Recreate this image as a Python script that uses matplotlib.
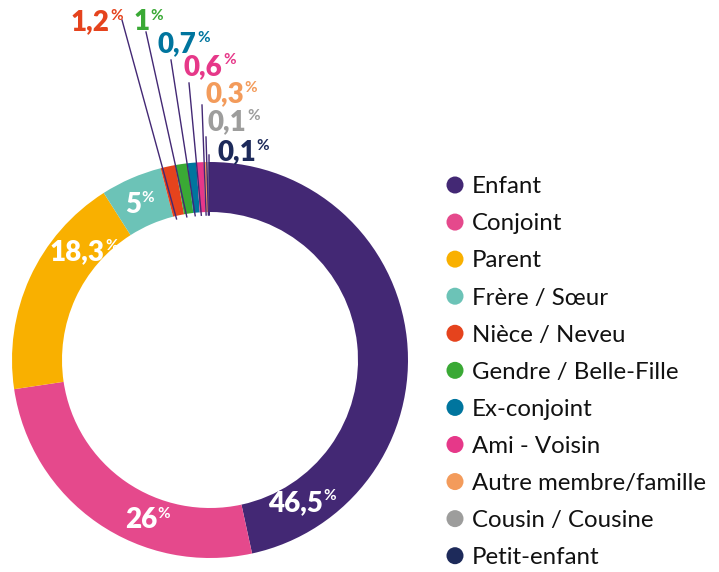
import matplotlib
matplotlib.use('Agg')
import matplotlib.pyplot as plt
import numpy as np

categories = ['Enfant', 'Conjoint', 'Parent', 'Frère / Sœur', 'Nièce / Neveu',
              'Gendre / Belle-Fille', 'Ex-conjoint', 'Ami - Voisin',
              'Autre membre/famille', 'Cousin / Cousine', 'Petit-enfant']
values = [46.5, 26, 18.3, 5, 1.2, 1, 0.7, 0.6, 0.3, 0.1, 0.1]
value_labels = ['46,5', '26', '18,3', '5', '1,2', '1', '0,7', '0,6', '0,3', '0,1', '0,1']
colors = ['#432874', '#e5498c', '#f9b000', '#6cc3b7', '#e5431d', '#3aa935',
          '#00759e', '#e63889', '#f39b5b', '#9d9d9c', '#1d2a5a']

W, H = 719, 572
FONT = 'Lato'

fig = plt.figure(figsize=(W / 100, H / 100), dpi=100)
ax = fig.add_axes([0, 0, 1, 1])

cx, cy = 210, H - 360
R, ring = 198, 50
wedges, _ = ax.pie(values, colors=colors, startangle=90, counterclock=False,
                   radius=R, center=(cx, cy),
                   wedgeprops=dict(width=ring, linewidth=0))
ax.set_xlim(0, W)
ax.set_ylim(0, H)
ax.set_aspect('equal')
ax.axis('off')

fs = 20


def pct_label(x_left, baseline, num, color):
    t = ax.text(x_left, H - baseline, num, color=color, fontsize=fs,
                fontweight='heavy', family=FONT, ha='left', va='baseline', zorder=5)
    ax.annotate('%', xy=(1, H - baseline + 10.5), xycoords=(t, 'data'),
                xytext=(0.2, 0), textcoords='offset points', ha='left',
                va='baseline', fontsize=fs * 0.55, fontweight='bold',
                color=color, family=FONT, zorder=5)


# layout: (left x, baseline y) in pixel coords from top
inside_pos = [(268, 511), (125, 528), (50, 260), (125, 213)]
outside_pos = [(71, 30), (134, 30), (158, 52), (184, 75), (205, 102), (208, 130), (217, 160)]
line_tops = [(122, 20), (146, 32), (171, 60), (189, 83), (202, 105), (206, 137), (209, 155)]

for i in range(4):
    x, b = inside_pos[i]
    pct_label(x, b, value_labels[i], 'white')

for k, i in enumerate(range(4, len(values))):
    x, b = outside_pos[k]
    pct_label(x, b, value_labels[i], colors[i])
    w = wedges[i]
    ang = np.deg2rad(w.theta2 - 0.25 * (w.theta2 - w.theta1))
    r_end = R - ring - 3
    ex, ey = cx + r_end * np.cos(ang), cy + r_end * np.sin(ang)
    tx, ty = line_tops[k]
    ax.plot([tx, ex], [H - ty, ey], color='#432874', lw=1.0, zorder=4)

# legend
leg_x_dot, leg_x_txt = 455, 472
leg_base0, leg_step = 193.3, 37.07
for i, cat in enumerate(categories):
    base = leg_base0 + i * leg_step
    ax.scatter([leg_x_dot], [H - (base - 8.3)], s=150, color=colors[i],
               edgecolors='none', zorder=5)
    ax.text(leg_x_txt, H - base, cat, fontsize=17.3, family=FONT,
            color='#111111', ha='left', va='baseline')

fig.savefig('out.png', dpi=100)
